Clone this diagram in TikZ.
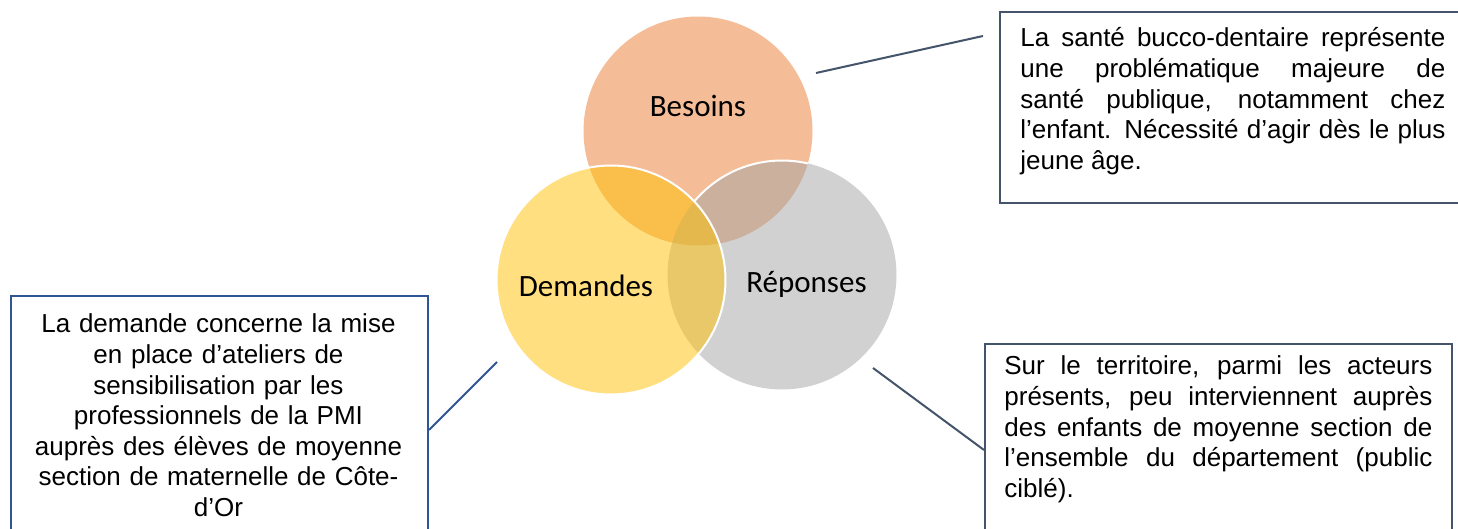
\documentclass[tikz,border=0pt]{standalone}
\usepackage{fontspec}
\setmainfont{Liberation Sans}
\newfontfamily\carlito{Carlito}
\definecolor{cOrange}{HTML}{ED7D31}
\definecolor{cGold}{HTML}{FFC000}
\definecolor{cGray}{HTML}{A5A5A5}
\definecolor{cSlate}{HTML}{44546A}
\definecolor{cBlue}{HTML}{2F5597}
\tolerance=10000
\hbadness=10000
\hyphenpenalty=10000
\begin{document}
\begin{tikzpicture}[x=0.5pt,y=-0.5pt,
  venn/.style={circle, minimum size=114.5pt, inner sep=0pt, draw=none, fill opacity=0.5},
  ringline/.style={draw=white, line width=1pt},
  lab/.style={font=\carlito\fontsize{15.5}{18}\selectfont, inner sep=0pt, text=black},
  panel/.style={rectangle, line width=1pt, inner sep=0pt, fill=none, anchor=north west},
  txt/.style={font=\fontsize{13}{15.3}\selectfont, inner sep=0pt, text=black},
  conn/.style={line width=1pt}]
\useasboundingbox (0,0) rectangle (1458,529);
\clip (0,0) rectangle (1458,529);
\fill[white] (0,0) rectangle (1458,529);
% circles
\node[venn, fill=cOrange] (bes) at (698,131) {};
\node[venn, fill=cGray] (rep) at (782,275) {};
\node[venn, fill=cGold] (dem) at (611,280) {};
\begin{scope}
  \clip (bes.center) circle[radius=57.25pt];
  \begin{scope}[even odd rule]
    \clip (dem.center) circle[radius=57.25pt] (-10,-10) rectangle (1470,540);
    \draw[ringline] (rep.center) circle[radius=57.25pt];
  \end{scope}
\end{scope}
\draw[ringline] (dem.center) circle[radius=57.25pt];
% labels
\node[lab, anchor=base] (besL) at (698,116.7) {Besoins};
\node[lab, anchor=base] (demL) at (586,297) {Demandes};
\node[lab, anchor=base] (repL) at (806.5,292.7) {Réponses};
% boxes
\node[panel, draw=cSlate, minimum width=240pt, minimum height=95.5pt] (tr) at (999,11) {};
\node[panel, draw=cBlue, minimum width=208.5pt, minimum height=130pt] (bl) at (10,295) {};
\node[panel, draw=cSlate, minimum width=233.5pt, minimum height=100pt] (br) at (984,343) {};
% texts
\node[txt, text width=212.5pt, align=justify, anchor=base west] (trT) at (1020,47)
  {La santé bucco-dentaire représente\linebreak une problématique majeure de\linebreak santé publique, notamment chez\linebreak l’enfant. Nécessité d’agir dès le plus\linebreak jeune âge.};
\node[txt, text width=205pt, align=center, anchor=base] (blT) at (218.5,333)
  {La demande concerne la mise\\ en place d’ateliers de\\ sensibilisation par les\\ professionnels de la PMI\\ auprès des élèves de moyenne\\ section de maternelle de Côte-\\ d’Or};
\node[txt, text width=214pt, align=justify, anchor=base west] (brT) at (1004,375)
  {Sur le territoire, parmi les acteurs\linebreak présents, peu interviennent auprès\linebreak des enfants de moyenne section de\linebreak l’ensemble du département (public\linebreak ciblé).};
% connectors
\coordinate (a1) at (816,73);
\coordinate (a2) at (983,36);
\draw[conn, draw=cSlate] (a1) -- (a2);
\coordinate (b1) at (497,362);
\coordinate (b2) at (bl.north east |- 0,430);
\draw[conn, draw=cBlue] (b1) -- (b2);
\coordinate (c1) at (873,368);
\coordinate (c2) at (br.north west |- 0,450);
\draw[conn, draw=cSlate] (c1) -- (c2);
\end{tikzpicture}
\end{document}
